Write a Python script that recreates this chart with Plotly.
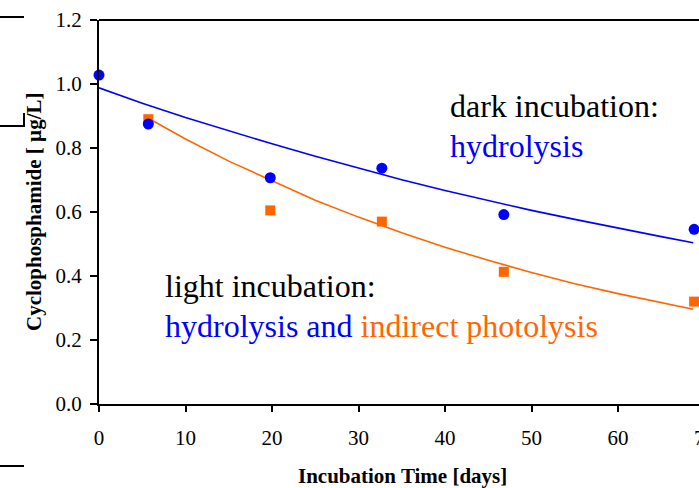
import plotly.graph_objects as go

# ---- data ----
dark_days = [0, 5.7, 19.8, 32.7, 46.8, 68.8]
dark_measured = [1.028, 0.875, 0.707, 0.737, 0.592, 0.546]

light_days = [5.7, 19.8, 32.7, 46.8, 68.8]
light_measured = [0.890, 0.605, 0.570, 0.413, 0.320]

fit_dark_days = [0, 5, 10, 15, 20, 25, 30, 35, 40, 45, 50, 55, 60, 65, 68.7]
fit_dark = [0.988, 0.940, 0.895, 0.853, 0.813, 0.774, 0.737, 0.701, 0.667, 0.636,
            0.605, 0.577, 0.549, 0.523, 0.504]

fit_light_days = [5.7, 10, 15, 20, 25, 30, 35, 40, 45, 50, 55, 60, 65, 68.7]
fit_light = [0.893, 0.828, 0.759, 0.697, 0.637, 0.584, 0.535, 0.490, 0.449, 0.411,
             0.376, 0.345, 0.316, 0.296]

x_ticks = [0, 10, 20, 30, 40, 50, 60]
y_ticks = [0.0, 0.2, 0.4, 0.6, 0.8, 1.0, 1.2]

BLUE = "#0000FF"
ORANGE = "#FF6600"
FONT = "Liberation Serif, Times New Roman, serif"

W, H = 699, 488
PX_PER_DAY = 8.65
L, R, T, B = 99, 0, 20, 84
PW = W - L - R
PH = H - T - B


def px(xs):
    return (xs - L) / PW


def py(ys):
    return (H - B - ys) / PH


fig = go.Figure()
fig.add_trace(go.Scatter(x=fit_dark_days, y=fit_dark, mode="lines",
                         line=dict(color=BLUE, width=1.6), hoverinfo="skip"))
fig.add_trace(go.Scatter(x=fit_light_days, y=fit_light, mode="lines",
                         line=dict(color=ORANGE, width=1.6), hoverinfo="skip"))
fig.add_trace(go.Scatter(x=light_days, y=light_measured, mode="markers",
                         marker=dict(symbol="square", size=10, color=ORANGE),
                         cliponaxis=False))
fig.add_trace(go.Scatter(x=dark_days, y=dark_measured, mode="markers",
                         marker=dict(symbol="circle", size=11, color=BLUE),
                         cliponaxis=False))

axis_common = dict(showgrid=False, zeroline=False, showline=True, linecolor="black",
                   linewidth=2, ticks="outside", tickcolor="black", tickwidth=2,
                   tickfont=dict(family=FONT, size=21, color="black"))

fig.update_xaxes(range=[0, PW / PX_PER_DAY], tickvals=x_ticks, ticklen=6,
                 ticklabelstandoff=8, **axis_common)
fig.update_yaxes(range=[0, 1.2], tickvals=y_ticks, tickformat=".1f", ticklen=7,
                 ticklabelstandoff=4, **axis_common)

ann = []
ann.append(dict(text="dark incubation:", x=px(448), y=py(106), xref="paper", yref="paper",
                xanchor="left", yanchor="middle", showarrow=False,
                font=dict(family=FONT, size=32, color="black")))
ann.append(dict(text="hydrolysis", x=px(448), y=py(146), xref="paper", yref="paper",
                xanchor="left", yanchor="middle", showarrow=False,
                font=dict(family=FONT, size=32, color=BLUE)))
ann.append(dict(text="light incubation:", x=px(163), y=py(286), xref="paper", yref="paper",
                xanchor="left", yanchor="middle", showarrow=False,
                font=dict(family=FONT, size=32, color="black")))
ann.append(dict(text=f"<span style='color:{BLUE}'>hydrolysis and </span>"
                     f"<span style='color:{ORANGE}'>indirect photolysis</span>",
                x=px(163), y=py(326), xref="paper", yref="paper",
                xanchor="left", yanchor="middle", showarrow=False,
                font=dict(family=FONT, size=32, color=BLUE)))
# axis titles
ann.append(dict(text="<b>Incubation Time [days]</b>", x=px(402), y=py(476),
                xref="paper", yref="paper", xanchor="center", yanchor="middle",
                showarrow=False, font=dict(family=FONT, size=21, color="black")))
ann.append(dict(text="<b>Cyclophosphamide [ µg/L]</b>", x=px(34), y=py(212),
                xref="paper", yref="paper", xanchor="center", yanchor="middle",
                textangle=-90, showarrow=False,
                font=dict(family=FONT, size=21, color="black")))
# last tick label (70) sits just past the image edge, partly cut off
ann.append(dict(text="70", x=px(L + 70 * PX_PER_DAY), y=py(438), xref="paper", yref="paper",
                xanchor="center", yanchor="middle", showarrow=False,
                font=dict(family=FONT, size=21, color="black")))

shapes = []
# top frame line
shapes.append(dict(type="line", xref="paper", yref="paper", x0=0, x1=1, y0=1, y1=1,
                   line=dict(color="black", width=2)))
# stray marks at left edge of the reference image
for (x0, y0, x1, y1) in [(0, 17, 24, 17), (0, 126, 24, 126), (24, 113, 24, 127),
                         (0, 466, 24, 466)]:
    shapes.append(dict(type="line", xref="paper", yref="paper",
                       x0=px(x0), y0=py(y0), x1=px(x1), y1=py(y1),
                       line=dict(color="black", width=2)))

fig.update_layout(width=W, height=H, margin=dict(l=L, r=R, t=T, b=B),
                  paper_bgcolor="white", plot_bgcolor="white", showlegend=False,
                  annotations=ann, shapes=shapes)

fig.write_html(
    "out.html",
    config={"displayModeBar": False},
    post_script="document.body.style.margin='0';document.body.style.overflow='hidden';",
)
